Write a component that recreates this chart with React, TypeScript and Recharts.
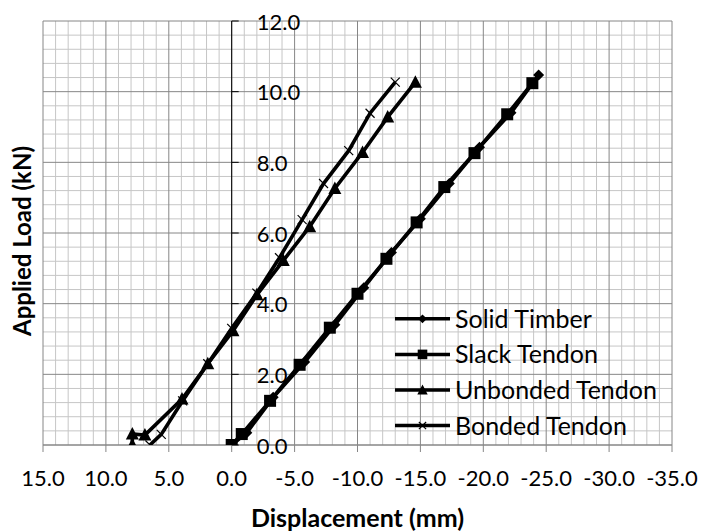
import React from 'react'
import {
  ScatterChart, Scatter, XAxis, YAxis, ReferenceLine, ReferenceDot, Legend,
} from 'recharts'

// axis ticks
const X_TICKS = [-35, -30, -25, -20, -15, -10, -5, 0, 5, 10, 15]
const Y_TICKS = [0, 2, 4, 6, 8, 10, 12]
const X_MINOR = X_TICKS.slice(0, -1).flatMap(t => [1, 2, 3, 4].map(k => t + k))
const Y_MINOR = Y_TICKS.slice(0, -1).flatMap(t => [0.4, 0.8, 1.2, 1.6].map(k => +(t + k).toFixed(1)))

// displacement (mm) / load (kN)
const solidX = [0, -1.2, -3.3, -5.8, -8.2, -10.5, -12.7, -15.0, -17.3, -19.7, -22.2, -24.4]
const solidY = [0, 0.35, 1.35, 2.35, 3.4, 4.45, 5.45, 6.4, 7.4, 8.43, 9.4, 10.47]
const slackX = [0, -0.8, -3.05, -5.4, -7.8, -10.0, -12.3, -14.7, -16.9, -19.3, -21.9, -23.9]
const slackY = [0, 0.31, 1.25, 2.27, 3.32, 4.28, 5.27, 6.3, 7.3, 8.26, 9.36, 10.24]
const unbondedX = [7.9, 7.9, 6.9, 3.95, 1.9, -0.1, -2.0, -4.1, -6.2, -8.2, -10.4, -12.4, -14.6]
const unbondedY = [0, 0.31, 0.28, 1.3, 2.3, 3.23, 4.25, 5.22, 6.18, 7.26, 8.28, 9.28, 10.27]
const bondedX = [6.5, 5.6, 3.9, 1.9, 0, -2.0, -3.8, -5.6, -7.3, -9.3, -11.0, -13.0]
const bondedY = [0, 0.3, 1.25, 2.3, 3.3, 4.3, 5.3, 6.38, 7.4, 8.33, 9.39, 10.27]

const zip = (xs: number[], ys: number[]) => xs.map((x, i) => ({ x, y: ys[i] }))

const MAJOR = '#868686'
const MINOR = '#c6c6c6'
const FONT = 'Lato, "Open Sans", sans-serif'

type MarkerKind = 'diamond' | 'square' | 'triangle' | 'cross'

function marker(kind: MarkerKind, cx: number, cy: number, s = 1) {
  if (kind === 'diamond') {
    const d = 5.5 * s
    return <polygon points={`${cx},${cy - d} ${cx + d},${cy} ${cx},${cy + d} ${cx - d},${cy}`} fill="#000" />
  }
  if (kind === 'square') {
    const h = 6 * s
    return <rect x={cx - h} y={cy - h} width={2 * h} height={2 * h} fill="#000" />
  }
  if (kind === 'triangle')
    return <polygon points={`${cx},${cy - 7 * s} ${cx + 6.5 * s},${cy + 5.5 * s} ${cx - 6.5 * s},${cy + 5.5 * s}`} fill="#000" />
  const c = 4.5 * s
  return (
    <g stroke="#000" strokeWidth={1.2}>
      <line x1={cx - c} y1={cy - c} x2={cx + c} y2={cy + c} />
      <line x1={cx - c} y1={cy + c} x2={cx + c} y2={cy - c} />
    </g>
  )
}

const SERIES: { name: string; data: { x: number; y: number }[]; kind: MarkerKind }[] = [
  { name: 'Solid Timber', data: zip(solidX, solidY), kind: 'diamond' },
  { name: 'Slack Tendon', data: zip(slackX, slackY), kind: 'square' },
  { name: 'Unbonded Tendon', data: zip(unbondedX, unbondedY), kind: 'triangle' },
  { name: 'Bonded Tendon', data: zip(bondedX, bondedY), kind: 'cross' },
]

function LegendBox() {
  const row = 35.6
  return (
    <svg width={280} height={row * 4} style={{ fontFamily: FONT, overflow: 'visible' }}>
      {SERIES.map((s, i) => {
        const cy = row * i + row / 2
        return (
          <g key={s.name}>
            <line x1={0} x2={55} y1={cy} y2={cy} stroke="#000" strokeWidth={3.5} />
            {marker(s.kind, 27.5, cy, 0.8)}
            <text x={60} y={cy} dy={-1} dominantBaseline="central" fontSize={25} fill="#000">{s.name}</text>
          </g>
        )
      })}
    </svg>
  )
}

export default function App() {
  return (
    <div style={{ position: 'absolute', left: 0, top: 0, background: '#fff' }}>
      <ScatterChart
        width={701}
        height={531}
        margin={{ top: 21, right: 29, bottom: 0, left: 0 }}
        style={{ fontFamily: FONT }}
      >
        {X_MINOR.map(v => <ReferenceLine key={'xm' + v} x={v} stroke={MINOR} strokeWidth={1} />)}
        {Y_MINOR.map(v => <ReferenceLine key={'ym' + v} y={v} stroke={MINOR} strokeWidth={1} />)}
        {X_TICKS.map(v => <ReferenceLine key={'xM' + v} x={v} stroke={MAJOR} strokeWidth={1} />)}
        {Y_TICKS.map(v => <ReferenceLine key={'yM' + v} y={v} stroke={MAJOR} strokeWidth={1} />)}
        <ReferenceLine x={0} stroke="#000" strokeWidth={1} />
        <XAxis
          type="number"
          dataKey="x"
          domain={[-35, 15]}
          reversed
          ticks={X_TICKS}
          allowDataOverflow
          height={86}
          tickSize={7}
          tickMargin={18}
          tickFormatter={(v: number) => v.toFixed(1)}
          tick={{ fill: '#000', fontSize: 22 }}
          axisLine={{ stroke: MAJOR }}
          tickLine={{ stroke: MAJOR }}
          label={{ value: 'Displacement (mm)', position: 'insideBottom', offset: 4, fontSize: 25, fontWeight: 700, fill: '#000' }}
        />
        <YAxis
          type="number"
          dataKey="y"
          domain={[0, 12]}
          ticks={Y_TICKS}
          allowDataOverflow
          width={43}
          tick={false}
          tickLine={false}
          axisLine={false}
          label={{ value: 'Applied Load (kN)', angle: -90, position: 'center', dx: 1, dy: 8, fontSize: 24, fontWeight: 700, fill: '#000' }}
        />
        {Y_TICKS.map(v => (
          <ReferenceDot
            key={'yt' + v}
            x={0}
            y={v}
            ifOverflow="visible"
            shape={(p: any) => (
              <g>
                <line x1={p.cx} x2={p.cx + 7} y1={p.cy} y2={p.cy} stroke="#000" strokeWidth={1} />
                <text x={p.cx + 25} y={p.cy} dominantBaseline="central" fontSize={22} fill="#000">
                  {v.toFixed(1)}
                </text>
              </g>
            )}
          />
        ))}
        {SERIES.map(s => (
          <Scatter
            key={s.name}
            name={s.name}
            data={s.data}
            line={{ stroke: '#000', strokeWidth: 3.6 }}
            lineJointType="linear"
            isAnimationActive={false}
            shape={(p: any) => marker(s.kind, p.cx, p.cy)}
          />
        ))}
        <Legend
          layout="vertical"
          align="center"
          verticalAlign="middle"
          content={() => <LegendBox />}
          wrapperStyle={{ position: 'absolute', left: 395, top: 301, width: 280 }}
        />
      </ScatterChart>
    </div>
  )
}
